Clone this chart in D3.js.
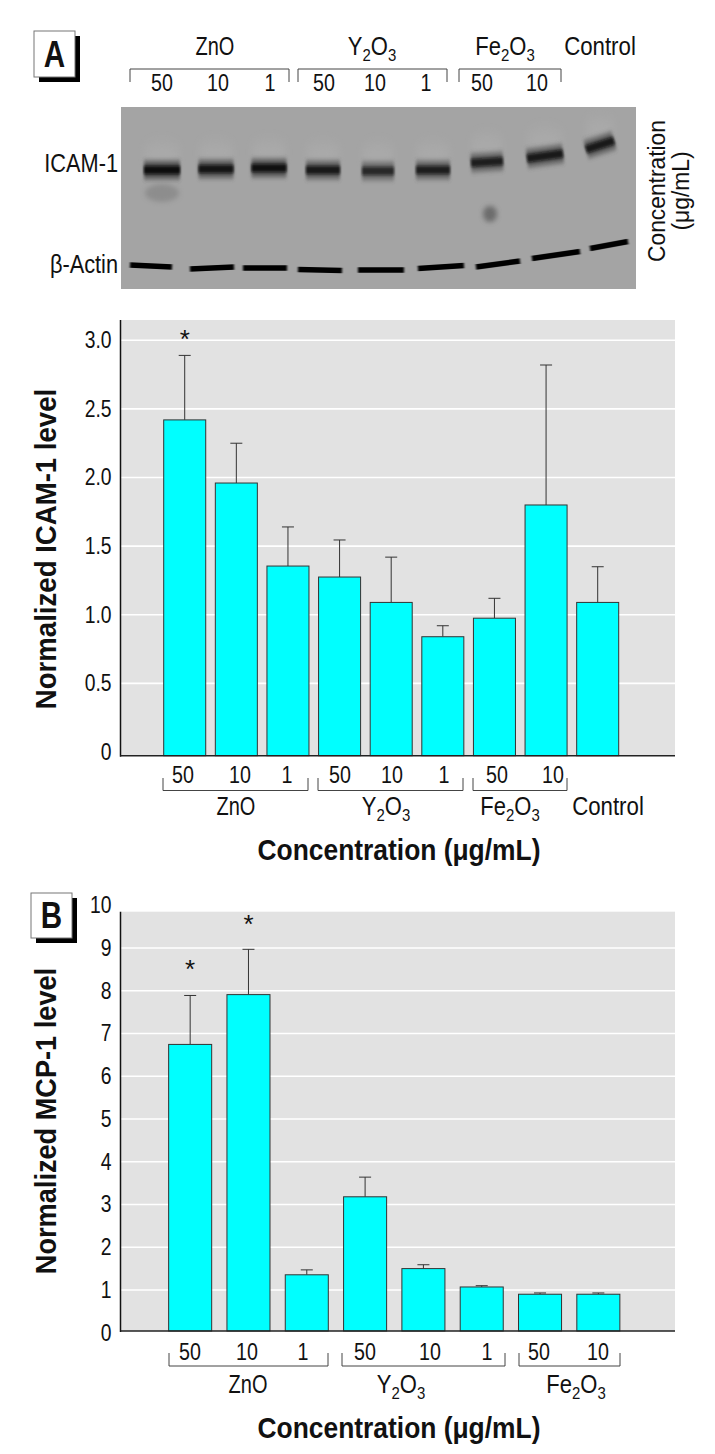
<!DOCTYPE html>
<html><head><meta charset="utf-8">
<script src="https://cdnjs.cloudflare.com/ajax/libs/d3/7.8.5/d3.min.js"></script>
<style>
html,body{margin:0;padding:0;background:#fff}
text{font-family:"Liberation Sans",Arimo,sans-serif;fill:#111}
.title{font-weight:700}
</style></head><body>
<svg id="c" width="715" height="1454" xmlns="http://www.w3.org/2000/svg"></svg>
<script>
// ---- data ----
const catsA = ["ZnO 50","ZnO 10","ZnO 1","Y2O3 50","Y2O3 10","Y2O3 1","Fe2O3 50","Fe2O3 10","Control"];
const valsA = [2.42,1.96,1.355,1.275,1.09,0.84,0.975,1.80,1.09];
const errsA = [2.89,2.25,1.64,1.545,1.42,0.92,1.12,2.82,1.35];
const catsB = ["ZnO 50","ZnO 10","ZnO 1","Y2O3 50","Y2O3 10","Y2O3 1","Fe2O3 50","Fe2O3 10"];
const valsB = [6.745,7.91,1.355,3.18,1.5,1.07,0.90,0.90];
const errsB = [7.89,8.97,1.47,3.64,1.59,1.10,0.93,0.93];
const ticksA = [0,0.5,1,1.5,2,2.5,3];
const ticksB = [0,1,2,3,4,5,6,7,8,9,10];
const concLabels = ["50","10","1","50","10","1","50","10"];
// blot: lane centre / lane width / band migration / band strength
const blotLanes = [162,216,269,323,378,433,487,545,600];
const icamWidth = [38,37,37,36,34,36,34,38,30];
const icamPos   = [63,62,61,63,64,63,55,49,38];
const icamTilt  = [0,0,0,0,0,0,-2,-5,-9];
const icamDark  = [1,0.9,0.95,0.85,0.7,0.8,0.8,0.85,0.85];
const actinLanes= [151,212,265,320,381,441,498,556,609];
const actinWidth= [42,44,44,44,46,46,44,48,38];
const actinPos  = [159,161,161,163,163,160,157,148,138];
const actinTilt = [2,-2,0,1,0,-3,-6,-7,-7];

const svg = d3.select("#c");
const defs = svg.append("defs");
const blur = (id,s)=>defs.append("filter").attr("id",id).attr("filterUnits","userSpaceOnUse")
  .attr("x",0).attr("y",0).attr("width",715).attr("height",1454)
  .append("feGaussianBlur").attr("stdDeviation",s);
blur("b1","1.4 2.6"); blur("b0","1.2 1.5"); blur("b2","0.8 0.6"); blur("b3","2.5 2.5"); blur("b4","3 7");
const BAR="#00ffff", BG="#e2e2e2", INK="#333";

// condense a text horizontally about its anchor (no narrow face is installed)
function squeeze(t,k){
  t.each(function(){
    const s=d3.select(this), x=+s.attr("x")||0, tr=s.attr("transform")||"";
    s.attr("transform",`${tr} translate(${x},0) scale(${k},1) translate(${-x},0)`);
  });
  return t;
}
function sub(sel,parts){ // parts: [text, isSub]
  parts.forEach(([t,s],i)=>{const ts=sel.append("tspan").text(t);
    if(s) ts.attr("dy",6).attr("font-size",17); else if(i>0) ts.attr("dy",-6);});
}
const groupText={ZnO:[["ZnO",0]],Y:[["Y",0],["2",1],["O",0],["3",1]],Fe:[["Fe",0],["2",1],["O",0],["3",1]],Control:[["Control",0]]};
const groupSqueeze={ZnO:0.8,Y:0.88,Fe:0.88,Control:0.89};
function label(g,x,y,key){
  const t=g.append("text").attr("x",x).attr("y",y).attr("text-anchor","middle").attr("font-size",25);
  sub(t,groupText[key]);
  squeeze(t,groupSqueeze[key]);
}
function nums(g,xs,y){
  xs.forEach((x,i)=>squeeze(g.append("text").attr("x",x).attr("y",y).attr("text-anchor","middle").attr("font-size",24).text(concLabels[i]),0.82));
}
function bracket(g,x0,x1,yBar,yEnd){
  g.append("path").attr("d",d3.line()([[x0,yEnd],[x0,yBar],[x1,yBar],[x1,yEnd]]))
   .attr("fill","none").attr("stroke","#444").attr("stroke-width",1);
}
function badge(x,y,w,h,letter){
  svg.append("rect").attr("x",x+5).attr("y",y+5).attr("width",w).attr("height",h).attr("fill","#000");
  svg.append("rect").attr("x",x).attr("y",y).attr("width",w).attr("height",h).attr("fill","#fff").attr("stroke","#777");
  squeeze(svg.append("text").attr("x",x+w/2).attr("y",y+h/2+13).attr("text-anchor","middle").attr("font-size",37).attr("class","title").text(letter),0.8);
}

function chart(o){
  const g=svg.append("g");
  const y=d3.scaleLinear().domain(o.yDom).range([o.bottom,o.top]);
  const x=d3.scaleBand().domain(o.cats).range(o.xRange).paddingInner(o.pad).paddingOuter(o.pad/2);
  g.append("rect").attr("x",o.left).attr("y",o.top).attr("width",o.right-o.left).attr("height",o.bottom-o.top).attr("fill",BG);
  g.selectAll(".grid").data(o.ticks.filter(d=>d>0&&y(d)>o.top)).join("line").attr("class","grid")
    .attr("x1",o.left).attr("x2",o.right).attr("y1",d=>y(d)).attr("y2",d=>y(d)).attr("stroke","#fff").attr("stroke-width",1.6);
  const ax=g.append("g").attr("transform",`translate(${o.left},0)`)
    .call(d3.axisLeft(y).tickValues(o.ticks).tickSize(0).tickPadding(9).tickFormat(o.fmt));
  ax.select(".domain").remove();
  ax.attr("font-family",null).attr("font-size",null);
  ax.selectAll("text").attr("font-size",23).attr("fill","#111").style("font-family",'"Liberation Sans"');
  squeeze(ax.selectAll("text"),0.84);
  // error whiskers
  const eg=g.selectAll(".err").data(o.cats).join("g");
  eg.append("line").attr("x1",d=>x(d)+x.bandwidth()/2).attr("x2",d=>x(d)+x.bandwidth()/2)
    .attr("y1",(d,i)=>y(o.vals[i])).attr("y2",(d,i)=>y(o.errs[i])).attr("stroke",INK).attr("stroke-width",1);
  eg.append("line").attr("x1",d=>x(d)+x.bandwidth()/2-6).attr("x2",d=>x(d)+x.bandwidth()/2+6)
    .attr("y1",(d,i)=>y(o.errs[i])).attr("y2",(d,i)=>y(o.errs[i])).attr("stroke",INK).attr("stroke-width",1);
  g.selectAll(".bar").data(o.cats).join("rect").attr("class","bar")
    .attr("x",d=>x(d)).attr("width",x.bandwidth())
    .attr("y",(d,i)=>y(o.vals[i])).attr("height",(d,i)=>o.bottom-y(o.vals[i]))
    .attr("fill",BAR).attr("stroke",INK).attr("stroke-width",1);
  // axis lines
  g.append("line").attr("x1",o.left).attr("x2",o.left).attr("y1",o.top).attr("y2",o.bottom+1).attr("stroke","#111").attr("stroke-width",1.5);
  g.append("line").attr("x1",o.left).attr("x2",o.right).attr("y1",o.bottom).attr("y2",o.bottom).attr("stroke","#222").attr("stroke-width",1.5);
  // significance marks
  o.stars.forEach(([i,dy])=>g.append("text").attr("x",x(o.cats[i])+x.bandwidth()/2).attr("y",y(o.errs[i])-dy)
    .attr("text-anchor","middle").attr("font-size",26).text("*"));
  // y title
  squeeze(g.append("text").attr("class","title").attr("transform",`translate(${o.yTitleX},${o.yTitleY}) rotate(-90)`)
    .attr("text-anchor","middle").attr("font-size",30).text(o.yTitle),o.yTitleK);
  return {g,x,y};
}

// ---- blot ----
const blotX=d3.scaleLinear().domain([0,515]).range([121,636]);
const blotY=d3.scaleLinear().domain([0,184]).range([107,291]);
const blot=svg.append("g");
defs.append("clipPath").attr("id","blotClip").append("rect").attr("x",blotX(0)).attr("y",blotY(0)).attr("width",515).attr("height",182);
blot.append("rect").attr("x",blotX(0)).attr("y",blotY(0)).attr("width",515).attr("height",182).attr("fill","#a4a4a4");
const inner=blot.append("g").attr("clip-path","url(#blotClip)");
inner.selectAll(".halo").data(blotLanes).join("ellipse").attr("cx",d=>d)
  .attr("cy",(d,i)=>blotY(icamPos[i]-16)).attr("rx",(d,i)=>icamWidth[i]/2).attr("ry",10)
  .attr("fill","#b4b4b4").attr("opacity",.4).attr("filter","url(#b4)");
const icamLine=(sel,w,col,op,f,inset)=>sel.attr("x1",(d,i)=>d-icamWidth[i]/2+inset).attr("x2",(d,i)=>d+icamWidth[i]/2-inset)
  .attr("y1",(d,i)=>blotY(icamPos[i]-icamTilt[i]/2)).attr("y2",(d,i)=>blotY(icamPos[i]+icamTilt[i]/2))
  .attr("stroke",col).attr("stroke-width",w).attr("opacity",op).attr("filter",f);
icamLine(inner.selectAll(".icamOuter").data(blotLanes).join("line").attr("class","icamOuter"),18,"#4a4a4a",(d,i)=>0.9*icamDark[i],"url(#b1)",1);
icamLine(inner.selectAll(".icam").data(blotLanes).join("line").attr("class","icam"),8,"#0a0a0a",(d,i)=>icamDark[i],"url(#b0)",1);
inner.append("ellipse").attr("cx",blotLanes[6]+3).attr("cy",blotY(107)).attr("rx",7).attr("ry",8).attr("fill","#555").attr("opacity",.7).attr("filter","url(#b3)");
inner.append("ellipse").attr("cx",blotLanes[0]).attr("cy",blotY(86)).attr("rx",17).attr("ry",9).attr("fill","#777").attr("opacity",.5).attr("filter","url(#b3)");
inner.selectAll(".actin").data(actinLanes).join("line").attr("class","actin")
  .attr("x1",(d,i)=>d-actinWidth[i]/2).attr("x2",(d,i)=>d+actinWidth[i]/2)
  .attr("y1",(d,i)=>blotY(actinPos[i]-actinTilt[i]/2)).attr("y2",(d,i)=>blotY(actinPos[i]+actinTilt[i]/2))
  .attr("stroke","#050505").attr("stroke-width",5.5).attr("filter","url(#b2)");

// ---- panel A ----
const A=chart({cats:catsA,vals:valsA,errs:errsA,ticks:ticksA,left:120.5,right:675,top:320,bottom:755.7,
  yDom:[-0.027,3.148],xRange:[158.9,623.5],pad:0.186,fmt:d=>d===0?"0":d.toFixed(1),
  stars:[[0,7]],yTitle:"Normalized ICAM-1 level",yTitleX:56,yTitleY:549,yTitleK:0.92});
badge(34,31,41,46,"A");

const head=svg.append("g");
[["ZnO",215,55],["Y",372,55],["Fe",505,55],["Control",600,55]].forEach(([k,x,y])=>label(head,x,y,k));
[[130,289],[298,447],[459,561]].forEach(([a,b])=>bracket(head,a,b,69,82));
nums(head,[162,218,270,324,375,426,482,537],91);
squeeze(head.append("text").attr("x",118).attr("y",172).attr("text-anchor","end").attr("font-size",25).text("ICAM-1"),0.87);
squeeze(head.append("text").attr("x",118).attr("y",273).attr("text-anchor","end").attr("font-size",25).text("β-Actin"),0.87);
squeeze(head.append("text").attr("transform","translate(665,191) rotate(-90)").attr("text-anchor","middle").attr("font-size",24).text("Concentration"),0.95);
squeeze(head.append("text").attr("transform","translate(689,191) rotate(-90)").attr("text-anchor","middle").attr("font-size",24).text("(μg/mL)"),0.95);

const mid=svg.append("g");
nums(mid,[183,240,287,340,392,444,497,553],783);
[[163,308],[318,463],[473,567]].forEach(([a,b])=>bracket(mid,a,b,790.5,778));
[["ZnO",236,815],["Y",386,815],["Fe",510,815],["Control",608,815]].forEach(([k,x,y])=>label(mid,x,y,k));
squeeze(mid.append("text").attr("class","title").attr("x",399).attr("y",860).attr("text-anchor","middle").attr("font-size",29).text("Concentration (μg/mL)"),0.91);

// ---- panel B ----
const B=chart({cats:catsB,vals:valsB,errs:errsB,ticks:ticksB,left:120.5,right:675,top:911.7,bottom:1331,
  yDom:[0.04,9.85],xRange:[161,627.5],pad:0.262,fmt:d=>String(d),
  stars:[[0,17.5],[1,16.5]],yTitle:"Normalized MCP-1 level",yTitleX:56,yTitleY:1121,yTitleK:0.905});
badge(31,893,41,45,"B");
const bot=svg.append("g");
nums(bot,[190,247,303,365,430,487,539,598],1360);
[[169,328],[342,505],[519,620]].forEach(([a,b])=>bracket(bot,a,b,1366,1353));
[["ZnO",248,1393],["Y",401,1393],["Fe",576,1393]].forEach(([k,x,y])=>label(bot,x,y,k));
squeeze(bot.append("text").attr("class","title").attr("x",399).attr("y",1438).attr("text-anchor","middle").attr("font-size",29).text("Concentration (μg/mL)"),0.91);
</script></body></html>
